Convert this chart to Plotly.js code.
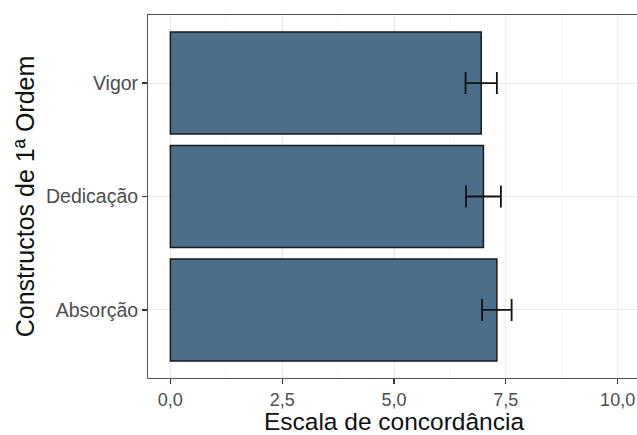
<!DOCTYPE html>
<html>
<head>
<meta charset="utf-8">
<script src="https://cdn.plot.ly/plotly-3.0.1.min.js"></script>
<style>
  html, body { margin: 0; padding: 0; width: 637px; height: 435px; overflow: hidden; background: #fff; }
  #chart { width: 642px; height: 435px; }
</style>
</head>
<body>
<div id="chart"></div>
<script>
// First-order constructs (bottom to top) with mean agreement and error
const constructs = ['Absorção', 'Dedicação', 'Vigor'];
const means = [7.30, 7.00, 6.95];
const errors = [0.33, 0.39, 0.35];

const tickValues = [0, 2.5, 5, 7.5, 10];
const tickLabels = ['0,0', '2,5', '5,0', '7,5', '10,0'];

const trace = {
  type: 'bar',
  orientation: 'h',
  x: means,
  y: constructs,
  width: 0.9,
  marker: { color: '#4b6e8b', line: { color: '#1a1a1a', width: 1.5 } },
  error_x: { type: 'data', array: errors, visible: true, color: '#111', thickness: 1.8, width: 11 },
  hoverinfo: 'skip'
};

const layout = {
  width: 642,
  height: 435,
  margin: { l: 148.3, r: 2.4, t: 14.5, b: 57.3 },
  paper_bgcolor: '#fff',
  plot_bgcolor: '#fff',
  font: { family: 'Liberation Sans, Arial, sans-serif' },
  showlegend: false,
  xaxis: {
    range: [-0.5, 10.5],
    tickvals: tickValues,
    ticktext: tickLabels,
    ticks: 'outside', ticklen: 5, tickwidth: 1.2, tickcolor: '#333',
    tickfont: { size: 18, color: '#4d4d4d' },
    showgrid: true, gridcolor: '#ebebeb', gridwidth: 1,
    minor: { tickvals: [1.25, 3.75, 6.25, 8.75], showgrid: true, gridcolor: '#f3f3f3', gridwidth: 0.7 },
    zeroline: false,
    showline: true, linecolor: '#555', linewidth: 1, mirror: true,
    title: { text: 'Escala de concordância', font: { size: 24.5, color: '#111' }, standoff: 3 }
  },
  yaxis: {
    type: 'category',
    categoryorder: 'array',
    categoryarray: constructs,
    range: [-0.6, 2.6],
    ticks: 'outside', ticklen: 5, tickwidth: 1.2, tickcolor: '#333',
    tickfont: { size: 19.5, color: '#4d4d4d' },
    showgrid: true, gridcolor: '#ebebeb', gridwidth: 1,
    zeroline: false,
    showline: true, linecolor: '#555', linewidth: 1, mirror: true,
    title: { text: 'Constructos de 1ª Ordem', font: { size: 25, color: '#111' }, standoff: 4 }
  }
};

Plotly.newPlot('chart', [trace], layout, { staticPlot: true, displayModeBar: false });
</script>
</body>
</html>
